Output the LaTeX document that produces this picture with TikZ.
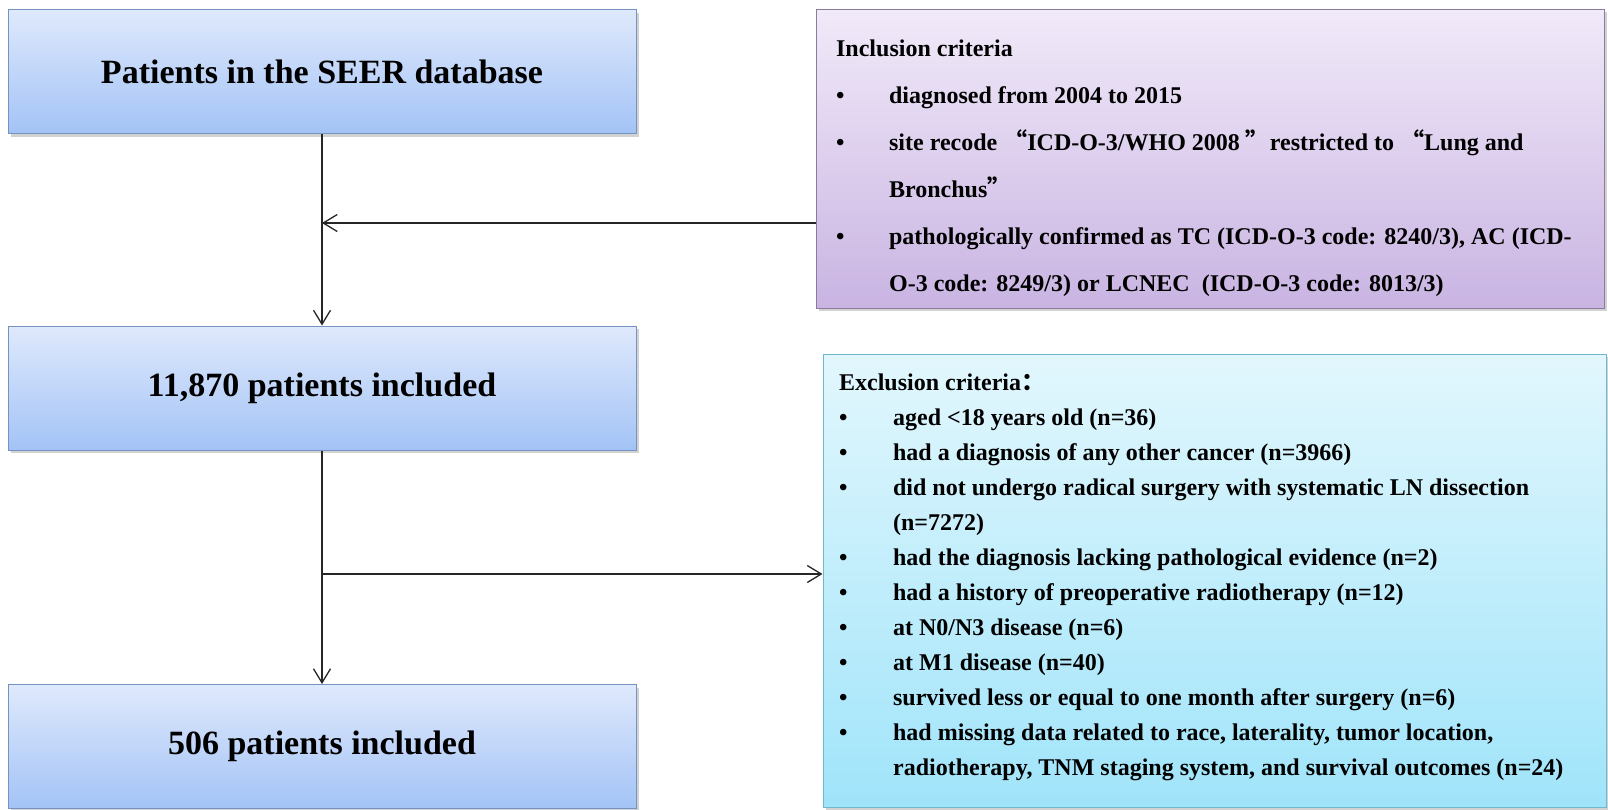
\documentclass[tikz,border=0pt]{standalone}
\usepackage{fontspec}
\setmainfont{Liberation Serif}
\newfontfamily\cjk{Noto Sans CJK SC}
\usetikzlibrary{arrows.meta,shadows}
\definecolor{steptop}{RGB}{223,233,252}
\definecolor{stepbot}{RGB}{163,195,246}
\definecolor{stepline}{RGB}{118,146,192}
\definecolor{incltop}{RGB}{241,234,249}
\definecolor{inclbot}{RGB}{201,180,226}
\definecolor{inclline}{RGB}{138,122,156}
\definecolor{excltop}{RGB}{226,247,253}
\definecolor{exclbot}{RGB}{160,228,250}
\definecolor{exclline}{RGB}{112,184,204}

\begin{document}
\begin{tikzpicture}[x=1pt,y=1pt,line width=1.3pt,>={Straight Barb[length=14pt,width=17pt]},
  stepbox/.style={draw=stepline,line width=1pt,top color=steptop,bottom color=stepbot,
    minimum width=628pt,minimum height=124pt,
    drop shadow={shadow xshift=3pt,shadow yshift=-3pt,fill=black!35},
    font=\fontsize{34}{40}\selectfont\bfseries},
  critbox/.style={line width=1pt,drop shadow={shadow xshift=3pt,shadow yshift=-3pt,fill=black!35}},
  crittext/.style={anchor=north west,inner sep=0pt}]
\useasboundingbox(0,0)rectangle(1608,-809);
\node[stepbox](seer)at(322,-71.5){Patients in the SEER database};
\node[stepbox](included)at(322,-388){11,870 patients included};
\node[stepbox](final)at(322,-746.5){506 patients included};
\node[critbox,draw=inclline,top color=incltop,bottom color=inclbot,
  minimum width=788pt,minimum height=299pt](incl)at(1210,-158.5){};
\node[critbox,draw=exclline,top color=excltop,bottom color=exclbot,
  minimum width=783pt,minimum height=453pt](excl)at(1214.5,-580.5){};
\node[crittext,font=\fontsize{24}{47}\selectfont\bfseries](incltxt)
  at([xshift=20pt,yshift=-14pt]incl.north west){\begin{tabular}{@{}p{53pt}@{}l@{}}
\multicolumn{2}{@{}l@{}}{Inclusion criteria}\\
\textbullet&diagnosed from 2004 to 2015\\
\textbullet&site recode {\cjk “}ICD-O-3/WHO 2008 {\cjk ”}restricted to {\cjk “}Lung and\\
&Bronchus{\cjk ”}\\
\textbullet&pathologically confirmed as TC (ICD-O-3 code: 8240/3), AC (ICD-\\
&O-3 code: 8249/3) or LCNEC\ \ (ICD-O-3 code: 8013/3)
\end{tabular}};
\node[crittext,font=\fontsize{24}{35}\selectfont\bfseries](excltxt)
  at([xshift=16pt,yshift=-11.5pt]excl.north west){\begin{tabular}{@{}p{54pt}@{}l@{}}
\multicolumn{2}{@{}l@{}}{Exclusion criteria{\cjk ：}}\\
\textbullet&aged <18 years old (n=36)\\
\textbullet&had a diagnosis of any other cancer (n=3966)\\
\textbullet&did not undergo radical surgery with systematic LN dissection\\
&(n=7272)\\
\textbullet&had the diagnosis lacking pathological evidence (n=2)\\
\textbullet&had a history of preoperative radiotherapy (n=12)\\
\textbullet&at N0/N3 disease (n=6)\\
\textbullet&at M1 disease (n=40)\\
\textbullet&survived less or equal to one month after surgery (n=6)\\
\textbullet&had missing data related to race, laterality, tumor location,\\
&radiotherapy, TNM staging system, and survival outcomes (n=24)
\end{tabular}};
\coordinate(j1)at(322,-223);
\coordinate(j2)at(322,-574);
\draw[->,black!85](seer)--(included);
\draw[->,black!85](included)--(final);
\draw[->,black!85](incl.west|-j1)--(j1);
\draw[->,black!85](j2)--(j2-|excl.west);
\end{tikzpicture}
\end{document}
